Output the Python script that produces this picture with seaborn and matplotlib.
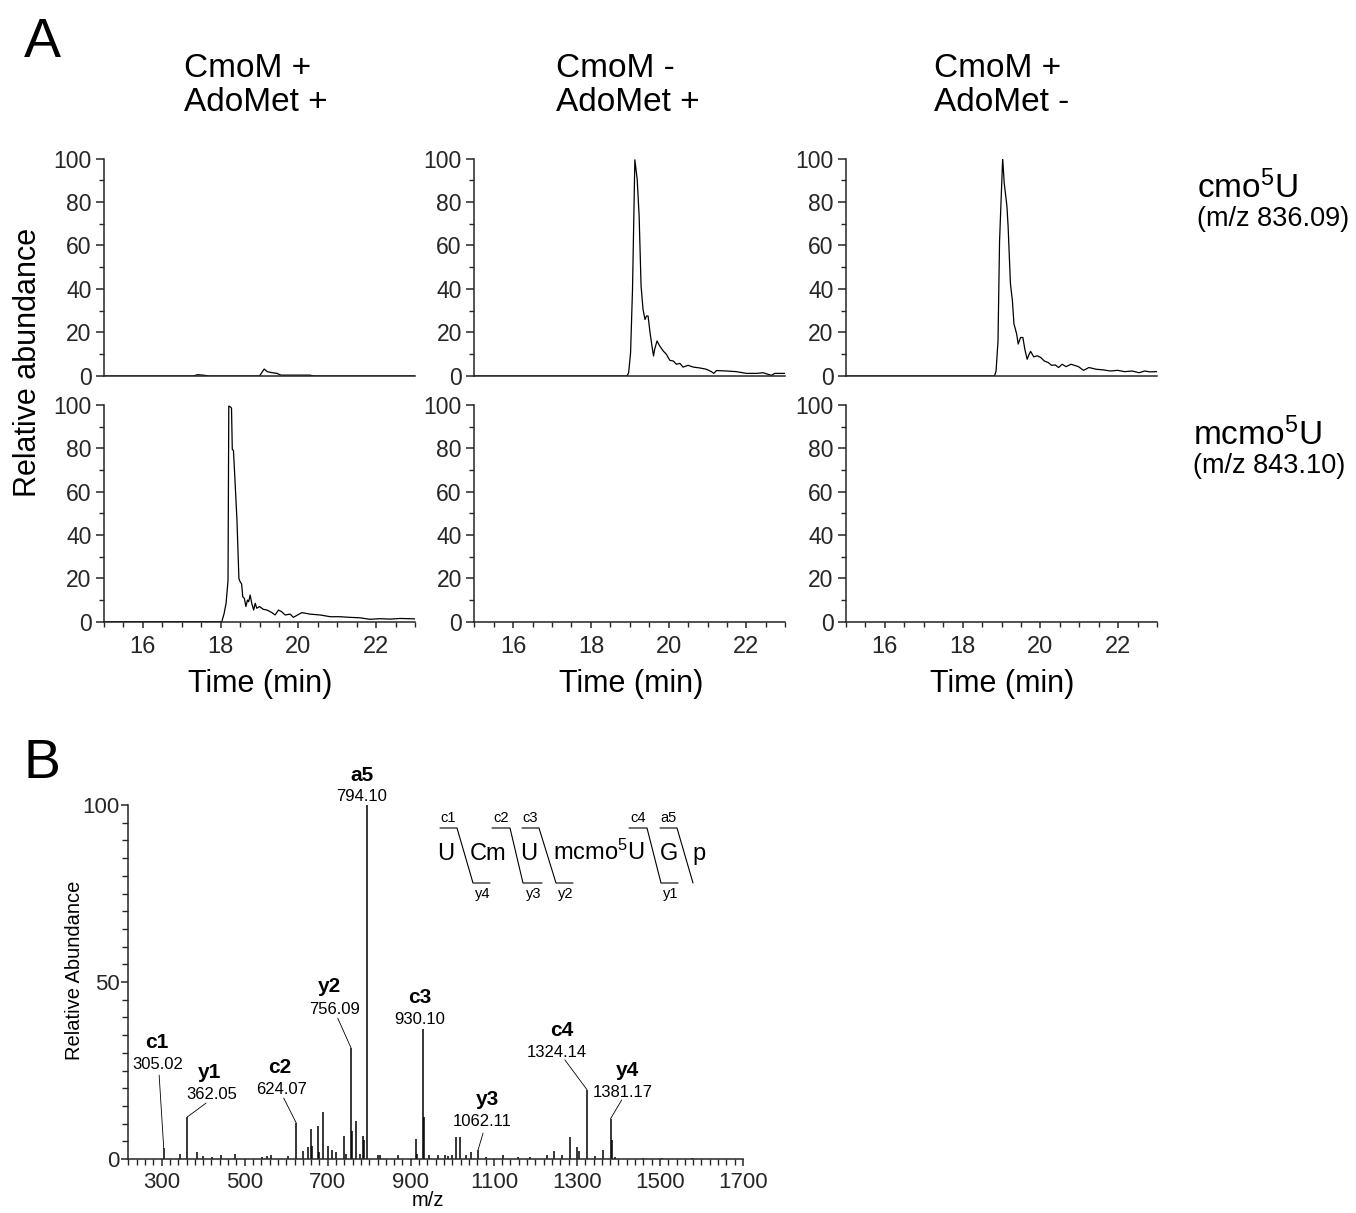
import matplotlib
matplotlib.use("Agg")
import matplotlib.pyplot as plt
import seaborn as sns
from matplotlib.ticker import MultipleLocator, FixedLocator

# ---------------- Panel A: extracted ion chromatograms ----------------
conditions = ["CmoM +\nAdoMet +", "CmoM -\nAdoMet +", "CmoM +\nAdoMet -"]
species = [r"cmo$^{\mathrm{5}}$U", r"mcmo$^{\mathrm{5}}$U"]
species_mz = ["(m/z 836.09)", "(m/z 843.10)"]

# cmo5U, CmoM + / AdoMet +
cmo_1_t = [15.0, 17.3, 17.4, 17.55, 17.7, 19.0, 19.12, 19.2, 19.3, 19.45, 19.55, 20.3, 20.4, 23.0]
cmo_1_y = [0, 0, 0.6, 0.4, 0, 0, 3.2, 2.0, 1.6, 1.2, 0.4, 0.4, 0, 0]

# cmo5U, CmoM - / AdoMet +
cmo_2_t = [15.0, 18.93, 18.97, 19.02, 19.07, 19.13, 19.19, 19.24, 19.29, 19.34,
           19.39, 19.43, 19.47, 19.52, 19.57, 19.61, 19.64, 19.70, 19.77, 19.86,
           19.94, 20.03, 20.12, 20.20, 20.29, 20.37, 20.50, 20.63, 20.80, 20.97,
           21.10, 21.16, 21.23, 21.49, 21.74, 22.0, 22.26, 22.43, 22.64, 22.73, 23.0]
cmo_2_y = [0, 0, 1.5, 10.7, 40, 99.4, 90.5, 73.6, 41.4, 30.7,
           26, 27.6, 27.6, 20, 13.8, 9.2, 12.3, 16.1, 13.8, 11.5,
           10, 7.2, 6.9, 5.4, 5.8, 4.1, 4.9, 4.1, 3.7, 3.1,
           2, 1.2, 2.5, 2.3, 2, 1.2, 1.2, 1.5, 0.3, 1.2, 1.2]

# cmo5U, CmoM + / AdoMet -
cmo_3_t = [15.0, 18.82, 18.86, 18.91, 18.95, 19.03, 19.07, 19.14, 19.17, 19.23,
           19.28, 19.32, 19.39, 19.43, 19.49, 19.55, 19.60, 19.66, 19.71, 19.75,
           19.83, 19.92, 20.01, 20.10, 20.20, 20.29, 20.38, 20.47, 20.56, 20.66,
           20.79, 20.98, 21.11, 21.25, 21.44, 21.62, 21.80, 21.99, 22.17, 22.36,
           22.54, 22.68, 22.82, 23.0]
cmo_3_y = [0, 0, 2.3, 16, 62, 100, 88.7, 78, 68.7, 42.4,
           34.7, 24, 19.3, 14.7, 17.7, 17.7, 12.3, 7.7, 10, 11.3,
           8.8, 9.3, 8.5, 6.9, 6.2, 4.9, 5.1, 3.9, 5.4, 4.3,
           5.4, 4.3, 2.6, 3.9, 3.1, 2.8, 2.3, 2.6, 2, 2.3,
           1.5, 2.3, 1.9, 2]

# mcmo5U, CmoM + / AdoMet +
mcmo_1_t = [15.0, 18.03, 18.09, 18.14, 18.19, 18.21, 18.26, 18.28, 18.30, 18.33,
            18.37, 18.42, 18.47, 18.50, 18.54, 18.57, 18.61, 18.65, 18.69, 18.72,
            18.76, 18.80, 18.85, 18.89, 18.93, 19.0, 19.1, 19.19, 19.32, 19.40,
            19.49, 19.57, 19.66, 19.79, 19.87, 19.98, 20.09, 20.30, 20.56, 20.82,
            21.07, 21.33, 21.59, 21.84, 22.1, 22.36, 22.62, 23.0]
mcmo_1_y = [0, 0, 3.8, 8.5, 19, 99.5, 99, 98.5, 79.5, 79,
            65, 47, 20, 18.5, 17.4, 11.5, 10.8, 7, 10, 9.2,
            12.3, 8.5, 5.4, 8.5, 6.2, 7, 5.7, 5.4, 4.2, 3.1,
            5.4, 4.6, 3.1, 3.5, 2, 3.1, 4.2, 3.5, 3.1, 2.3,
            2.3, 2, 1.8, 1.1, 1.4, 1.2, 1.5, 1.3]

# mcmo5U, no signal without enzyme or without AdoMet
mcmo_2_t = [15.0, 23.0]
mcmo_2_y = [0, 0]
mcmo_3_t = [15.0, 23.0]
mcmo_3_y = [0, 0]

traces = [[(cmo_1_t, cmo_1_y), (cmo_2_t, cmo_2_y), (cmo_3_t, cmo_3_y)],
          [(mcmo_1_t, mcmo_1_y), (mcmo_2_t, mcmo_2_y), (mcmo_3_t, mcmo_3_y)]]

# ---------------- Panel B: CID spectrum ----------------
spec_mz = [305.02, 344, 362.05, 385, 399, 421, 443, 476, 541, 553, 563, 604,
           624.07, 640, 652, 659, 662, 676, 680, 688, 700, 710, 720, 739, 743,
           756.09, 759, 767.6, 777, 784.5, 788.5, 794.10, 820, 825, 869, 912, 915,
           930.10, 932, 943, 965, 982, 989, 1000, 1010, 1018, 1032, 1044, 1062.11,
           1082, 1121, 1158, 1186, 1227, 1244, 1263, 1282.6, 1301, 1305, 1324.14,
           1343, 1362, 1381.17, 1384.5, 1391, 1458, 1506, 1578]
spec_int = [3.1, 1.5, 11.9, 1.9, 0.8, 0.7, 1.0, 1.5, 0.5, 0.8, 1.2, 0.8,
            10.2, 2.2, 3.4, 8.5, 3.8, 9.4, 2.0, 13.2, 3.6, 2.5, 2.0, 6.4, 1.5,
            31.4, 7.8, 10.6, 1.5, 6.6, 5.5, 100, 1.2, 1.0, 1.0, 5.6, 1.5,
            36.7, 12.0, 1.0, 1.2, 1.0, 0.8, 1.0, 6.2, 6.2, 1.0, 1.9, 2.6,
            0.5, 1.2, 0.5, 0.5, 1.2, 2.2, 1.0, 6.2, 3.4, 2.4, 19.6,
            0.8, 2.6, 11.4, 5.4, 0.5, 0.3, 0.3, 0.2]

ion_names = ["c1", "y1", "c2", "y2", "a5", "c3", "y3", "c4", "y4"]
ion_mz = [305.02, 362.05, 624.07, 756.09, 794.10, 930.10, 1062.11, 1324.14, 1381.17]
ion_int = [3.1, 11.9, 10.2, 31.4, 100, 36.7, 2.6, 19.6, 11.4]

# label placement (data coords of the value text) and leader start points
label_xy = [(290, 26.6), (420, 18.1), (590, 19.5), (717, 42.1), (782, 102.3),
            (922, 39.3), (1073, 10.5), (1251, 30.2), (1410, 18.9)]
name_xy = [(289, 32.8), (416, 24.3), (585, 25.9), (705, 48.6), (782, 108.4),
           (922, 45.5), (1085, 16.9), (1263, 36.4), (1422, 25.1)]
leader_xy = [(294, 23.7), (407, 15.8), (594, 17.2), (724, 39.8), None,
             None, (1074, 7.3), (1271, 28.0), (1408, 16.7)]

# sequence U Cm U mcmo5U G p with cleavage marks
seq_res = ["U", "Cm", "U", r"mcmo$^{\mathrm{5}}$U", "G", "p"]
seq_x = [446, 488.5, 529, 599, 669, 699.5]
cut_top = ["c1", "c2", "c3", "c4", "a5"]
cut_bot = ["y4", "y3", "y2", "y1", ""]
cut_x = [(440, 457, 473, 490), (492, 510, 523, 542), (522, 539, 556, 573),
         (629, 647, 661, 678), (660, 677, 693, 693)]

# ---------------- figure ----------------
sns.set_theme(style="ticks")
plt.rcParams["font.family"] = ["Liberation Sans", "DejaVu Sans"]
plt.rcParams["mathtext.fontset"] = "custom"
plt.rcParams["mathtext.rm"] = "Liberation Sans"
plt.rcParams["mathtext.it"] = "Liberation Sans:italic"
plt.rcParams["mathtext.bf"] = "Liberation Sans:bold"
plt.rcParams["axes.linewidth"] = 1.1
plt.rcParams["text.color"] = "black"

W, H = 1356, 1213
fig = plt.figure(figsize=(W / 100, H / 100), dpi=100)


def fx(px):
    return px / W


def fy(py):
    return 1 - py / H


def rect(left, top, right, bottom):
    return [left / W, 1 - bottom / H, (right - left) / W, (bottom - top) / H]


# overlay in pixel coordinates for the sequence diagram
ov = fig.add_axes([0, 0, 1, 1])
ov.set_xlim(0, W)
ov.set_ylim(H, 0)
ov.axis("off")

col_left = [104, 474.3, 846]
row_tb = [(158.5, 376), (405, 621.7)]
ax_w = 311

for r in range(2):
    for c in range(3):
        top, bot = row_tb[r]
        ax = fig.add_axes(rect(col_left[c], top, col_left[c] + ax_w, bot))
        t, y = traces[r][c]
        sns.lineplot(x=t, y=y, ax=ax, color="black", lw=0.9, estimator=None, sort=False)
        ax.set_xlim(15, 23)
        ax.set_ylim(0, 100)
        sns.despine(ax=ax)
        ax.yaxis.set_major_locator(MultipleLocator(20))
        ax.yaxis.set_minor_locator(MultipleLocator(10))
        ax.xaxis.set_major_locator(FixedLocator([16, 18, 20, 22]))
        ax.xaxis.set_minor_locator(MultipleLocator(0.5))
        ax.tick_params(axis="y", which="major", length=6, width=1.1, labelsize=16.5, pad=3)
        ax.tick_params(axis="y", which="minor", length=3.5, width=1.0)
        ax.tick_params(axis="x", which="major", length=4, width=1.1, labelsize=17, pad=6)
        ax.tick_params(axis="x", which="minor", length=3.5, width=1.0)
        if r == 0:
            ax.tick_params(axis="x", which="both", length=0, labelbottom=False)
        ax.set_xlabel("")
        ax.set_ylabel("")
        ax.patch.set_alpha(0)

title_x = [184, 556, 934]
for c in range(3):
    fig.text(fx(title_x[c]), fy(53), conditions[c], ha="left", va="top",
             fontsize=24, linespacing=1.13)
    fig.text(fx(col_left[c] + ax_w / 2 + 1), fy(684), "Time (min)", ha="center",
             va="center", fontsize=22)

fig.text(fx(28), fy(362), "Relative abundance", rotation=90, ha="center",
         va="center", fontsize=22)

sp_x = [1197, 1193]
sp_base = [198, 445]
for r in range(2):
    fig.text(fx(sp_x[r]), fy(sp_base[r]), species[r], ha="left", va="baseline", fontsize=24)
    fig.text(fx(sp_x[r]), fy(sp_base[r] + 28), species_mz[r], ha="left",
             va="baseline", fontsize=19.5)

fig.text(fx(24), fy(57), "A", fontsize=40, va="baseline", ha="left")
fig.text(fx(24), fy(778), "B", fontsize=40, va="baseline", ha="left")

# spectrum
axb = fig.add_axes(rect(128, 805, 743, 1159))
axb.vlines(spec_mz, 0, spec_int, color="black", lw=1.1)
axb.set_xlim(219, 1700)
axb.set_ylim(0, 100)
sns.despine(ax=axb)
axb.xaxis.set_major_locator(FixedLocator(list(range(300, 1701, 200))))
axb.xaxis.set_minor_locator(MultipleLocator(20))
axb.yaxis.set_major_locator(FixedLocator([0, 50, 100]))
axb.yaxis.set_minor_locator(MultipleLocator(5))
axb.tick_params(axis="both", which="major", length=5, width=1.1, labelsize=16)
axb.tick_params(axis="both", which="minor", length=4, width=1.0)
axb.tick_params(axis="y", which="major", pad=1)
axb.tick_params(axis="x", which="major", pad=4)
axb.patch.set_alpha(0)

for name, mz, inten, lxy, nxy, lead in zip(ion_names, ion_mz, ion_int,
                                            label_xy, name_xy, leader_xy):
    axb.text(lxy[0], lxy[1], f"{mz:.2f}", ha="center", va="center", fontsize=12,
             clip_on=False)
    axb.text(nxy[0], nxy[1], name, ha="center", va="center", fontsize=15,
             fontweight="bold", clip_on=False)
    if lead is not None:
        axb.plot([lead[0], mz], [lead[1], inten], color="black", lw=0.6, clip_on=False)

fig.text(fx(428), fy(1200), "m/z", ha="center", va="center", fontsize=14.5)
fig.text(fx(75), fy(970), "Relative Abundance", rotation=90, ha="center",
         va="center", fontsize=14.5)

# sequence with fragmentation marks
for res, x in zip(seq_res, seq_x):
    ov.text(x, 860, res, ha="center", va="baseline", fontsize=17)
for top_lab, bot_lab, (x0, x1, x2, x3) in zip(cut_top, cut_bot, cut_x):
    ov.plot([x0, x1, x2, x3], [828, 828, 883, 883], color="black", lw=0.8)
    ov.text((x0 + x1) / 2, 825, top_lab, ha="center", va="bottom", fontsize=10.5)
    if bot_lab:
        ov.text((x2 + x3) / 2 + 1, 887, bot_lab, ha="center", va="top", fontsize=10.5)

fig.savefig("out.png", dpi=100)
